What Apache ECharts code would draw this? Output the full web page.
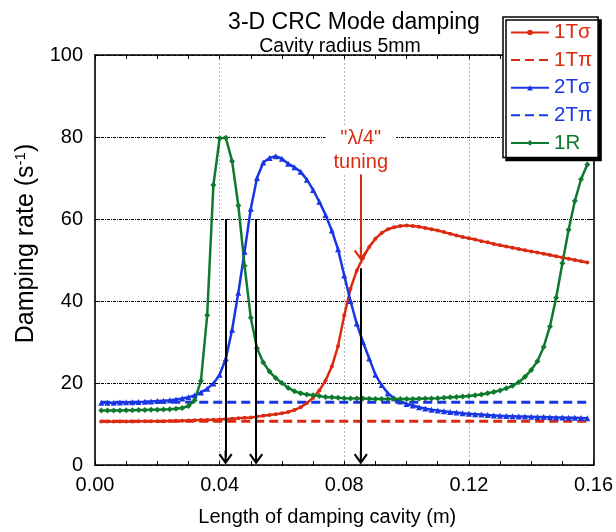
<!DOCTYPE html>
<html><head><meta charset="utf-8">
<script src="https://cdn.jsdelivr.net/npm/echarts@6/dist/echarts.min.js"></script>
<style>html,body{margin:0;padding:0;background:#fff}#c{width:616px;height:532px}</style>
</head><body><div id="c"></div>
<script>
// ---- data ----
const xs = [0.002,0.004,0.006,0.008,0.010,0.012,0.014,0.016,0.018,0.020,
  0.022,0.024,0.026,0.028,0.030,0.032,0.034,0.036,0.038,0.040,
  0.042,0.044,0.046,0.048,0.050,0.052,0.054,0.056,0.058,0.060,
  0.062,0.064,0.066,0.068,0.070,0.072,0.074,0.076,0.078,0.080,
  0.082,0.084,0.086,0.088,0.090,0.092,0.094,0.096,0.098,0.100,
  0.102,0.104,0.106,0.108,0.110,0.112,0.114,0.116,0.118,0.120,
  0.122,0.124,0.126,0.128,0.130,0.132,0.134,0.136,0.138,0.140,
  0.142,0.144,0.146,0.148,0.150,0.152,0.154,0.156,0.158];
const t1Sigma = [10.6,10.6,10.6,10.6,10.6,10.6,10.65,10.65,10.7,10.7,
  10.7,10.75,10.8,10.8,10.85,10.9,10.95,11.0,11.05,11.1,
  11.2,11.3,11.4,11.5,11.6,11.8,12.0,12.2,12.4,12.6,
  12.9,13.4,14.1,15.1,16.4,18.2,20.6,24.0,29.0,36.5,
  43.0,47.4,50.5,53.2,55.2,56.6,57.5,58.0,58.3,58.4,
  58.3,58.1,57.8,57.5,57.2,56.8,56.4,56.0,55.6,55.3,
  55.0,54.6,54.3,53.9,53.6,53.3,53.0,52.7,52.4,52.1,
  51.8,51.5,51.2,50.9,50.6,50.3,50.0,49.7,49.4];
const t2Sigma = [15.2,15.2,15.2,15.25,15.3,15.3,15.35,15.4,15.5,15.6,
  15.7,15.8,16.0,16.2,16.5,17.0,17.7,18.6,19.9,22.0,
  26.0,33.0,42.0,52.0,62.5,70.0,73.8,74.9,75.3,74.7,
  73.5,72.6,71.5,69.6,67.1,64.2,61.0,57.2,52.6,46.2,
  40.0,34.5,30.0,26.0,22.0,19.5,17.5,16.3,15.5,14.9,
  14.5,14.1,13.8,13.5,13.3,13.1,12.9,12.8,12.6,12.5,
  12.4,12.3,12.2,12.1,12.0,11.95,11.9,11.85,11.8,11.75,
  11.7,11.7,11.65,11.6,11.6,11.55,11.5,11.45,11.4];
const r1 = [13.3,13.3,13.3,13.3,13.35,13.35,13.4,13.4,13.45,13.5,
  13.55,13.6,13.7,13.9,14.4,15.8,20.5,36.5,68.3,79.7,
  79.8,74.1,63.3,48.6,35.9,28.5,25.0,22.8,21.2,20.0,
  18.8,18.0,17.5,17.2,17.0,16.8,16.6,16.5,16.4,16.3,
  16.25,16.2,16.2,16.15,16.1,16.1,16.1,16.1,16.1,16.1,
  16.1,16.15,16.2,16.25,16.3,16.4,16.5,16.6,16.7,16.85,
  17.0,17.2,17.5,17.8,18.2,18.7,19.3,20.2,21.5,23.2,
  25.3,28.8,33.8,40.8,49.2,57.4,64.4,69.7,73.3];
const piXs = [0.002, 0.158];
const t1Pi = [10.7, 10.7];
const t2Pi = [15.3, 15.3];
const seriesNames = ['1T\u03c3', '1T\u03c0', '2T\u03c3', '2T\u03c0', '1R'];
const xTickLabels = ['0.00', '0.04', '0.08', '0.12', '0.16'];
const arrowXs = [0.0419, 0.0517, 0.0853];
const arrowTops = [60, 60, 48];
const arrowBottom = 1.8;
const tuningX = 0.0853, tuningTop = 70.9, tuningTip = 51.5;

// ---- styling ----
const FONT = '"Liberation Sans", Arial, Helvetica, sans-serif';
const RED = '#dc2a10', BLUE = '#1836e4', GREEN = '#0e7a2e';
const colors = [RED, RED, BLUE, BLUE, GREEN];
const dashedItem = [false, true, false, true, false];
const chevron = 'path://M5,0 L10,7 L8.8,8 L5.7,3.6 L5.7,10 L4.3,10 L4.3,3.6 L1.2,8 L0,7 Z';
const pairs = (xa, ya) => xa.map((x, i) => [x, ya[i]]);

const chart = echarts.init(document.getElementById('c'), null, {renderer: 'canvas'});
const tickLabelMap = {};
[0, 0.04, 0.08, 0.12, 0.16].forEach((v, i) => tickLabelMap[v.toFixed(2)] = xTickLabels[i]);

const baseX = {
  type: 'value', min: 0, max: 0.16, interval: 0.04,
  axisLine: {show: true, onZero: false, lineStyle: {color: '#000', width: 1.6}},
  axisTick: {show: true, inside: true, length: 4, lineStyle: {color: '#000', width: 1}},
  minorTick: {show: true, splitNumber: 4, length: 4, lineStyle: {color: '#000', width: 1}},
};
const baseY = {
  type: 'value', min: 0, max: 100, interval: 20,
  axisLine: {show: true, onZero: false, lineStyle: {color: '#000', width: 1.6}},
  axisTick: {show: true, inside: true, length: 5, lineStyle: {color: '#000', width: 1}},
};

chart.setOption({
  animation: false,
  backgroundColor: '#fff',
  textStyle: {fontFamily: FONT},
  title: [
    {text: '3-D CRC Mode damping', left: 349, top: 6, textAlign: 'center',
     textStyle: {fontSize: 23, fontWeight: 'normal', color: '#000', fontFamily: FONT}},
    {text: 'Cavity radius 5mm', left: 335, top: 32, textAlign: 'center',
     textStyle: {fontSize: 19.5, fontWeight: 'normal', color: '#000', fontFamily: FONT}}
  ],
  grid: {left: 95, right: 21, top: 55, bottom: 65, containLabel: false},
  legend: {
    orient: 'vertical', left: 503, top: 17,
    padding: [5, 6, 4, 7], itemGap: 6.6, itemWidth: 38, itemHeight: 7,
    backgroundColor: '#fff', borderColor: '#000', borderWidth: 1.5,
    shadowColor: '#000', shadowBlur: 0, shadowOffsetX: 3, shadowOffsetY: 3,
    textStyle: {fontSize: 20.5, lineHeight: 20, fontFamily: FONT},
    data: seriesNames.map((n, i) => {
      const d = {name: n, textStyle: {color: colors[i]}};
      if (dashedItem[i]) d.itemStyle = {color: 'rgba(0,0,0,0)', opacity: 0, borderWidth: 0};
      return d;
    })
  },
  xAxis: [
    Object.assign({}, baseX, {
      position: 'bottom',
      name: 'Length of damping cavity (m)', nameLocation: 'middle', nameGap: 42,
      nameTextStyle: {fontSize: 20, color: '#000', fontFamily: FONT, padding: [0, 34, 0, 0]},
      axisLabel: {fontSize: 20, color: '#000', margin: 10, fontFamily: FONT,
                  formatter: v => tickLabelMap[v.toFixed(2)] || ''},
      splitLine: {show: true, lineStyle: {color: '#b8b8b8', type: [2, 2], width: 1}}
    }),
    Object.assign({}, baseX, {position: 'top', axisLabel: {show: false}, splitLine: {show: false}})
  ],
  yAxis: [
    Object.assign({}, baseY, {
      position: 'left',
      name: 'Damping rate (s{sup|-1})', nameLocation: 'middle', nameGap: 47, nameRotate: 90,
      nameTextStyle: {fontSize: 25, color: '#000', fontFamily: FONT, padding: [0, 0, 0, 33],
        rich: {sup: {fontSize: 15, verticalAlign: 'top', lineHeight: 14, padding: [0, 0, 10, 0], fontFamily: FONT}}},
      axisLabel: {fontSize: 20, color: '#000', margin: 12, fontFamily: FONT},
      splitLine: {show: true, lineStyle: {color: '#000', type: [3, 1, 1, 1], width: 1}}
    }),
    Object.assign({}, baseY, {position: 'right', axisLabel: {show: false}, splitLine: {show: false}})
  ],
  series: [
    {name: seriesNames[0], type: 'line', data: pairs(xs, t1Sigma), color: RED,
     symbol: 'circle', symbolSize: 4, lineStyle: {width: 2.5, color: RED}, itemStyle: {color: RED}, z: 3,
     markLine: {silent: true, symbol: ['none', chevron], symbolSize: 14,
       lineStyle: {color: RED, width: 2, type: 'solid'},
       label: {show: true, position: 'start', distance: 0, formatter: '"\u03bb/4"\ntuning',
               color: RED, fontSize: 20, lineHeight: 24, fontFamily: FONT,
               backgroundColor: '#fff', padding: [0, 8]},
       data: [[{coord: [tuningX, tuningTop]}, {coord: [tuningX, tuningTip]}]]}},
    {name: seriesNames[1], type: 'line', data: pairs(piXs, t1Pi), color: RED,
     symbol: 'none', lineStyle: {width: 3, color: RED, type: [9, 5]}, z: 2},
    {name: seriesNames[2], type: 'line', data: pairs(xs, t2Sigma), color: BLUE,
     symbol: 'triangle', symbolSize: 6, lineStyle: {width: 2.5, color: BLUE}, itemStyle: {color: BLUE}, z: 3},
    {name: seriesNames[3], type: 'line', data: pairs(piXs, t2Pi), color: BLUE,
     symbol: 'none', lineStyle: {width: 3, color: BLUE, type: [9, 5]}, z: 2},
    {name: seriesNames[4], type: 'line', data: pairs(xs, r1), color: GREEN,
     symbol: 'diamond', symbolSize: 6, lineStyle: {width: 2.5, color: GREEN}, itemStyle: {color: GREEN}, z: 3,
     markLine: {silent: true, symbol: ['none', chevron], symbolSize: 14,
       lineStyle: {color: '#000', width: 2, type: 'solid'}, label: {show: false},
       data: arrowXs.map((x, i) => [{coord: [x, arrowTops[i]]}, {coord: [x, arrowBottom]}])}}
  ]
});
</script></body></html>
